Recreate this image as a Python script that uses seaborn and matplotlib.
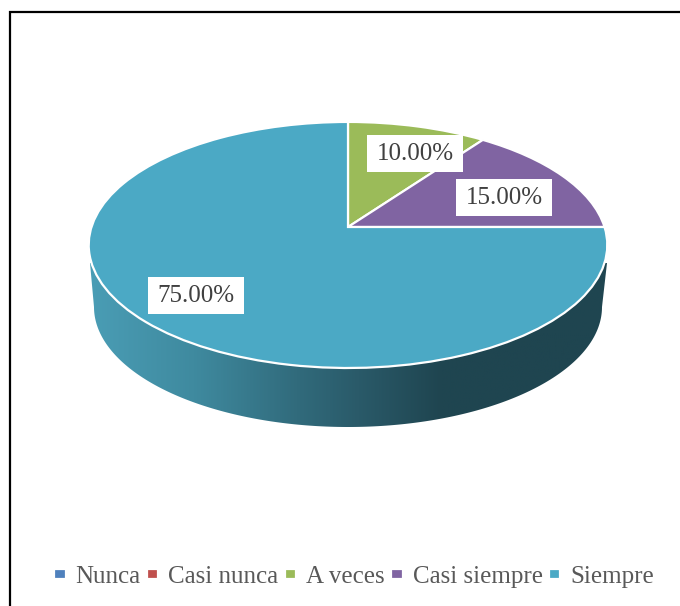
import numpy as np
import matplotlib
matplotlib.use("Agg")
import matplotlib.pyplot as plt
import matplotlib.transforms as mtransforms
from matplotlib.colors import LinearSegmentedColormap
from matplotlib.patches import Polygon, Rectangle
import seaborn as sns

# datos del grafico
categorias = ["Nunca", "Casi nunca", "A veces", "Casi siempre", "Siempre"]
porcentajes = [0, 0, 10, 15, 75]
colores = ["#4F81BD", "#C0504D", "#9BBB59", "#8064A2", "#4BA9C5"]

sns.set_theme(style="white")
plt.rcParams["font.family"] = ["Liberation Serif", "DejaVu Serif"]


class Perspectiva(mtransforms.Transform):
    """Pasa el circulo unidad a la elipse inclinada, en pixeles"""
    input_dims = 2
    output_dims = 2

    def transform_non_affine(self, values):
        x, y = values[:, 0], values[:, 1]
        w = 1 + 0.146 * y
        return np.column_stack((348 + 256.5 * x / w, 227 - 120.4 * y / w))


fig = plt.figure(figsize=(6.8, 6.06), dpi=100)
ax = fig.add_axes([0, 0, 1, 1])

wedges, _, autotexts = ax.pie(
    porcentajes,
    colors=colores,
    startangle=90,
    counterclock=False,
    autopct=lambda p: f"{p:.2f}%" if p > 0 else "",
    wedgeprops={"edgecolor": "white", "linewidth": 1.6, "zorder": 3},
)

ax.set_aspect("auto")
ax.set_xlim(0, 680)
ax.set_ylim(606, 0)
ax.axis("off")

trans = Perspectiva() + ax.transData
for w in wedges:
    w.set_transform(trans)

# canto de la tarta con degradado
t = np.linspace(np.pi, 2 * np.pi, 200)
borde = np.column_stack((348 + 254 * np.cos(t), 307 - 120 * np.sin(t)))
borde = np.vstack((borde, [[607, 263], [90, 263]]))
canto = Polygon(borde, closed=True, facecolor="none", edgecolor="none", zorder=1)
ax.add_patch(canto)
cmap = LinearSegmentedColormap.from_list(
    "canto",
    [(0, "#4A9DB5"), (0.2, "#3F8A9F"), (0.4, "#316B7C"), (0.52, "#2A5A69"),
     (0.68, "#1F4550"), (1, "#1F4550")],
)
img = ax.imshow(np.linspace(0, 1, 256).reshape(1, -1), cmap=cmap, aspect="auto",
                extent=(90, 607, 430, 240), zorder=2)
img.set_clip_path(canto)
ax.set_xlim(0, 680)
ax.set_ylim(606, 0)

# etiquetas con su caja blanca
posiciones = {2: (415, 153.5), 3: (504, 197.5), 4: (196, 295.5)}
for i, txt in enumerate(autotexts):
    if i in posiciones:
        cx, cy = posiciones[i]
        ax.add_patch(Rectangle((cx - 48, cy - 18.5), 96, 37, facecolor="white", edgecolor="none", zorder=4))
        txt.set_position((cx, cy + 1))
        txt.set_ha("center")
        txt.set_va("center")
        txt.set_fontsize(18)
        txt.set_color("#404040")
        txt.set_zorder(5)

ley = ax.legend(
    wedges, categorias,
    ncol=5,
    loc="center",
    bbox_to_anchor=(0.521, 1 - 577 / 606),
    frameon=False,
    fontsize=18,
    labelcolor="#595959",
    handlelength=0.45,
    handleheight=0.25,
    handletextpad=0.4,
    columnspacing=0.26,
    borderpad=0,
)

# marco: solo arriba e izquierda
ax.plot([10, 10, 680], [606, 12, 12], color="black", lw=1.6, solid_joinstyle="miter", clip_on=False, zorder=6)

fig.savefig("out.png", dpi=100)
